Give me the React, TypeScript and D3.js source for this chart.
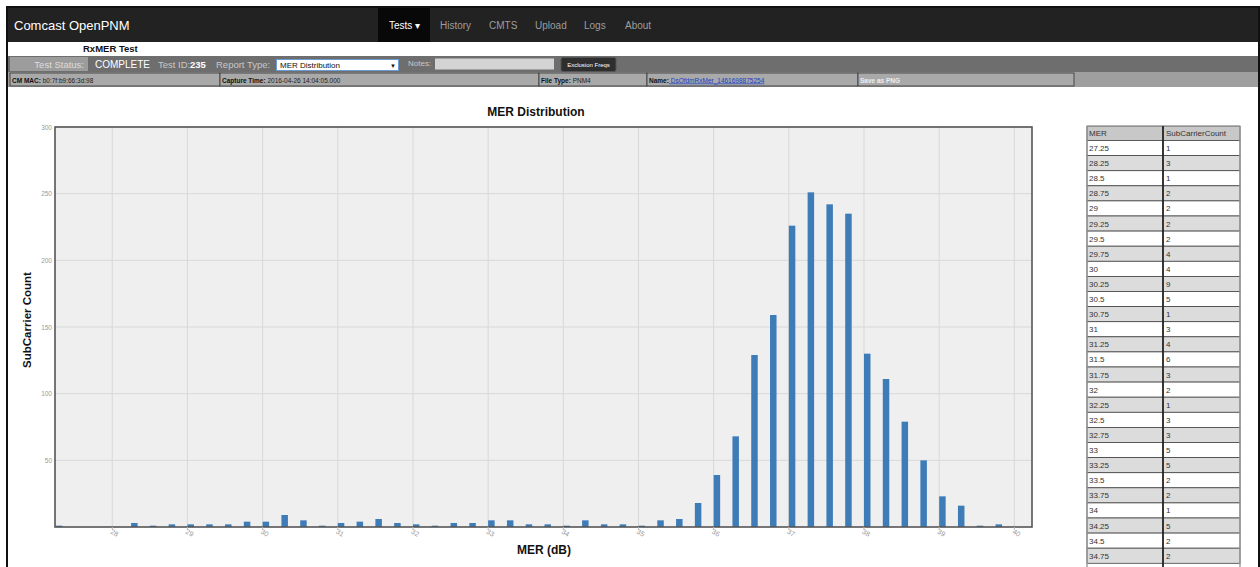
import React from 'react';
import * as d3 from 'd3';

// MER bins (dB) and subcarrier counts per bin
const merValues = [
  27.25, 28.25, 28.5, 28.75, 29, 29.25, 29.5, 29.75, 30, 30.25, 30.5, 30.75,
  31, 31.25, 31.5, 31.75, 32, 32.25, 32.5, 32.75, 33, 33.25, 33.5, 33.75,
  34, 34.25, 34.5, 34.75, 35, 35.25, 35.5, 35.75, 36, 36.25, 36.5, 36.75,
  37, 37.25, 37.5, 37.75, 38, 38.25, 38.5, 38.75, 39, 39.25, 39.5, 39.75,
];
const subcarrierCounts = [
  1, 3, 1, 2, 2, 2, 2, 4, 4, 9, 5, 1,
  3, 4, 6, 3, 2, 1, 3, 3, 5, 5, 2, 2,
  1, 5, 2, 2, 1, 5, 6, 18, 39, 68, 129, 159,
  226, 251, 242, 235, 130, 111, 79, 50, 23, 16, 1, 2,
];
const xTicks = [28, 29, 30, 31, 32, 33, 34, 35, 36, 37, 38, 39, 40];
const yTicks = [50, 100, 150, 200, 250, 300];

const navItems = ['History', 'CMTS', 'Upload', 'Logs', 'About'];
const infoCells = [
  { label: 'CM MAC:', value: 'b0:7f:b9:66:3d:98' },
  { label: 'Capture Time:', value: '2016-04-26 14:04:05.000' },
  { label: 'File Type:', value: 'PNM4' },
  { label: 'Name:', value: 'DsOfdmRxMer_1461698875254', link: true },
  { label: 'Save as PNG', value: '' },
];

const W = 1260;
const H = 567;
const font = '"Liberation Sans", Arial, sans-serif';

const App: React.FC = () => {
  const plot = { left: 55, right: 1032, top: 127, bottom: 527 };

  const x = d3.scaleLinear().domain([27.238, 40.235]).range([plot.left, plot.right]);
  const y = d3.scaleLinear().domain([0, 300]).range([plot.bottom, plot.top]);
  const barW = 6.5;

  const navX = [440, 489, 535, 584, 625];
  const infoX = [10, 220, 539, 647, 858, 1074];

  // table
  const tX = [1087, 1163, 1240];
  const tTop = 126;
  const headH = 14.5;
  const rowH = 15.1;

  return (
    <svg
      width={W}
      height={H}
      style={{ position: 'absolute', left: 0, top: 0, background: '#fff' }}
      fontFamily={font}
    >
      {/* frame */}
      <rect x={7} y={7} width={1252} height={H} fill="#fff" stroke="#111" strokeWidth={2} />

      {/* navbar */}
      <rect x={8} y={8} width={1250} height={34} fill="#222" />
      <text x={14} y={29.5} fontSize={13} fill="#fff">Comcast OpenPNM</text>
      <rect x={378} y={8} width={52} height={34} fill="#080808" />
      <text x={389} y={28.5} fontSize={10} fill="#fff">Tests ▾</text>
      {navItems.map((n, i) => (
        <text key={n} x={navX[i]} y={28.5} fontSize={10} fill="#9d9d9d">{n}</text>
      ))}

      {/* test title */}
      <text x={83} y={52} fontSize={9.5} fontWeight="bold" fill="#111">RxMER Test</text>

      {/* toolbar */}
      <rect x={8} y={56} width={1250} height={16} fill="#6e6e6e" />
      <rect x={10} y={57} width={78} height={14} fill="#9c9c9c" />
      <text x={84} y={67.5} fontSize={9.5} fill="#ddd" textAnchor="end">Test Status:</text>
      <text x={95} y={67.5} fontSize={10} fill="#fff">COMPLETE</text>
      <text x={158} y={67.5} fontSize={9.5} fill="#c8c8c8">Test ID:</text>
      <text x={190} y={67.5} fontSize={9.5} fill="#fff" fontWeight="bold">235</text>
      <text x={216} y={67.5} fontSize={9.5} fill="#c8c8c8">Report Type:</text>
      <rect x={276.5} y={59.5} width={122} height={11} fill="#fff" stroke="#6d9bd6" />
      <text x={280} y={68} fontSize={8} fill="#111">MER Distribution</text>
      <text x={393} y={68} fontSize={6} fill="#111" textAnchor="middle">▼</text>
      <text x={408} y={66} fontSize={8} fill="#c8c8c8">Notes:</text>
      <rect x={435} y={58.5} width={119} height={11} fill="#d3d3d3" />
      <rect x={561} y={57.5} width={55} height={14} rx={2} fill="#2e2e2e" stroke="#555" />
      <text x={588.5} y={67} fontSize={6} fill="#fff" textAnchor="middle">Exclusion Freqs</text>

      {/* info row */}
      <rect x={8} y={72} width={1250} height={15} fill="#9f9f9f" />
      {infoCells.map((c, i) => (
        <g key={c.label}>
          <rect x={infoX[i]} y={73} width={infoX[i + 1] - infoX[i]} height={13} fill="#a9a9a9" stroke="#333" strokeWidth={0.8} />
          <text x={infoX[i] + 2} y={82.5} fontSize={6.5} fill={c.value ? '#111' : '#eee'} fontWeight="bold">
            {c.label}
            {c.value && (
              <tspan fontWeight="normal" fill={c.link ? '#1a3cc8' : '#222'} textDecoration={c.link ? 'underline' : undefined}>
                {' ' + c.value}
              </tspan>
            )}
          </text>
        </g>
      ))}

      {/* chart title */}
      <text x={536} y={116} fontSize={12} fontWeight="bold" textAnchor="middle" fill="#111">MER Distribution</text>

      {/* plot area */}
      <rect x={plot.left} y={plot.top} width={plot.right - plot.left} height={plot.bottom - plot.top} fill="#efefef" />
      {xTicks.map(t => (
        <line key={'gx' + t} x1={x(t)} x2={x(t)} y1={plot.top} y2={plot.bottom} stroke="#d8d8d8" strokeWidth={1} />
      ))}
      {yTicks.map(t => (
        <line key={'gy' + t} x1={plot.left} x2={plot.right} y1={y(t)} y2={y(t)} stroke="#d8d8d8" strokeWidth={1} />
      ))}

      {/* bars */}
      <defs>
        <clipPath id="plotClip">
          <rect x={plot.left} y={plot.top} width={plot.right - plot.left} height={plot.bottom - plot.top} />
        </clipPath>
      </defs>
      <g clipPath="url(#plotClip)">
        {merValues.map((v, i) => (
          <rect
            key={v}
            x={x(v)}
            y={y(subcarrierCounts[i])}
            width={barW}
            height={y(0) - y(subcarrierCounts[i])}
            fill="#3e7cb8"
          />
        ))}
      </g>

      <rect
        x={plot.left}
        y={plot.top}
        width={plot.right - plot.left}
        height={plot.bottom - plot.top}
        fill="none"
        stroke="#555"
        strokeWidth={1.6}
      />

      {/* y ticks */}
      {yTicks.map(t => (
        <text key={'ty' + t} x={52} y={y(t) + 2.5} fontSize={6.5} fill="#999" textAnchor="end">{t}</text>
      ))}
      {/* x ticks */}
      {xTicks.map(t => (
        <g key={'tx' + t}>
          <line x1={x(t)} x2={x(t)} y1={plot.bottom} y2={plot.bottom + 3} stroke="#bbb" />
          <text
            x={0}
            y={0}
            fontSize={7}
            fill="#999"
            textAnchor="middle"
            transform={`translate(${x(t) + 1},${plot.bottom + 8}) rotate(30)`}
          >
            {t}
          </text>
        </g>
      ))}

      {/* axis titles */}
      <text x={544} y={554} fontSize={12} fontWeight="bold" textAnchor="middle" fill="#111">MER (dB)</text>
      <text
        transform={`translate(31,${(plot.top + plot.bottom) / 2 - 7}) rotate(-90)`}
        fontSize={11.5}
        fontWeight="bold"
        textAnchor="middle"
        fill="#111"
      >
        SubCarrier Count
      </text>

      {/* data table: only the rows that fit the page are drawn */}
      <rect x={tX[0]} y={tTop} width={tX[2] - tX[0]} height={headH} fill="#c8c8c8" stroke="#444" strokeWidth={0.8} />
      <text x={tX[0] + 2} y={tTop + 10} fontSize={8} fill="#333">MER</text>
      <text x={tX[1] + 3} y={tTop + 10} fontSize={8} fill="#333">SubCarrierCount</text>
      {merValues.map((v, i) => {
        const top = tTop + headH + i * rowH;
        if (top + rowH > H + 1) return null;
        return (
          <g key={'row' + v}>
            <rect
              x={tX[0]}
              y={top}
              width={tX[2] - tX[0]}
              height={rowH}
              fill={i % 2 === 0 ? '#fff' : '#dcdcdc'}
              stroke="#444"
              strokeWidth={0.8}
            />
            <text x={tX[0] + 2} y={top + 10.5} fontSize={8} fill="#333">{v}</text>
            <text x={tX[1] + 3} y={top + 10.5} fontSize={8} fill="#333">{subcarrierCounts[i]}</text>
          </g>
        );
      })}
      <line x1={tX[1]} x2={tX[1]} y1={tTop} y2={H} stroke="#222" strokeWidth={1.8} />
      <line x1={tX[0]} x2={tX[0]} y1={tTop} y2={H} stroke="#999" strokeWidth={1.4} />
      <line x1={tX[2]} x2={tX[2]} y1={tTop} y2={H} stroke="#999" strokeWidth={1.4} />
    </svg>
  );
};

export default App;
